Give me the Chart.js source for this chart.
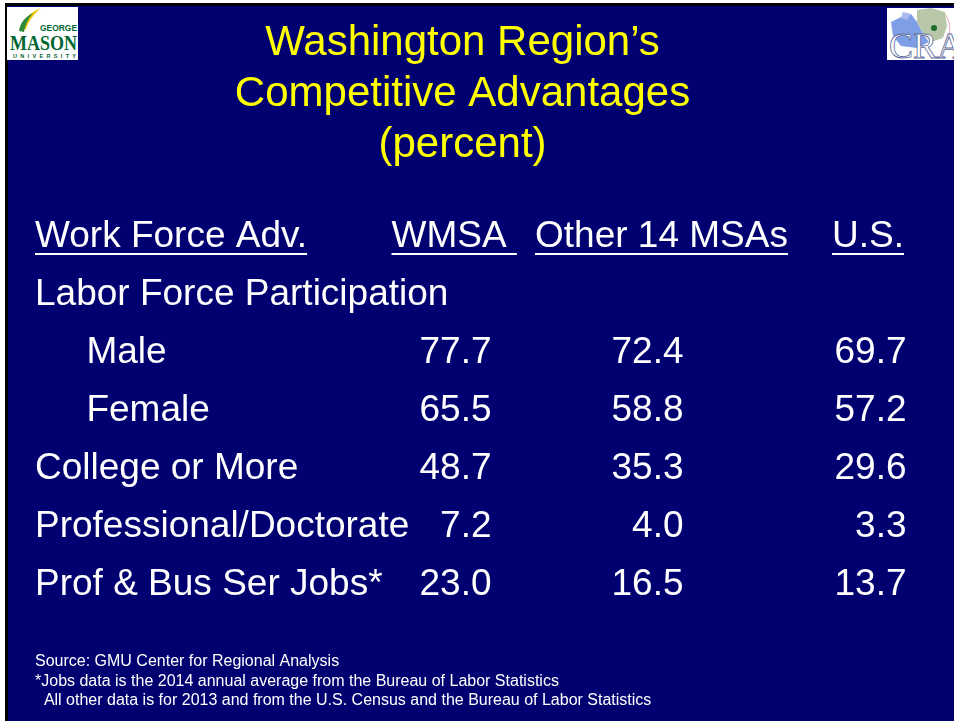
<!DOCTYPE html>
<html>
<head>
<meta charset="utf-8">
<script src="https://cdn.jsdelivr.net/npm/chart.js@4.4.1/dist/chart.umd.min.js"></script>
<style>
  html, body { margin: 0; padding: 0; }
  body { width: 954px; height: 721px; background: #fff; position: relative; overflow: hidden; }
  #slide { position: absolute; left: 5px; top: 3px; right: 0; bottom: 0; background: #000070;
           border-left: 3px solid #000; border-top: 3px solid #000; }
  .logo { position: absolute; background: #fff; }
  #gmu { left: 7px; top: 7px; width: 71px; height: 53px; }
  #cra { left: 887px; top: 8px; width: 67px; height: 52px; overflow: hidden; }
  #table { position: absolute; left: 0; top: 0; }
</style>
</head>
<body>
<div id="slide"></div>

<div id="gmu" class="logo">
  <svg width="71" height="53" viewBox="0 0 71 53">
    <path d="M14 22 C16 12 24 5 34 1 C27 7 22 13 19 22 Z" fill="#f5c400"/>
    <path d="M12 24 C13 16 18 10 26 6 C21 12 18 18 17 25 Z" fill="#2e8b3a"/>
    <text x="33" y="24" font-family="Liberation Sans, Arial" font-weight="bold" font-size="8.5" fill="#006633" textLength="37" lengthAdjust="spacingAndGlyphs">GEORGE</text>
    <text x="3" y="43" font-family="Liberation Serif, Times New Roman, serif" font-weight="bold" font-size="21" fill="#006633" textLength="67" lengthAdjust="spacingAndGlyphs">MASON</text>
    <text x="6" y="51" font-family="Liberation Sans, Arial" font-weight="bold" font-size="5.5" fill="#006633" textLength="63" lengthAdjust="spacing">UNIVERSITY</text>
  </svg>
</div>

<div id="cra" class="logo">
  <svg width="67" height="52" viewBox="0 0 67 52">
    <path d="M30 2 L44 0 L58 4 L60 18 L56 30 L44 34 L36 26 L30 14 Z" fill="#b8c7a8"/>
    <path d="M4 14 L16 8 L24 6 L30 14 L36 26 L42 34 L30 40 L14 38 L6 28 Z" fill="#7e9ee6"/>
    <path d="M16 4 L24 6 L20 12 L14 10 Z" fill="#a8b8f0"/>
    <circle cx="47" cy="20" r="3" fill="#1f6b2a"/>
    <path d="M58 6 C64 14 64 26 60 34" stroke="#e8b0b0" stroke-width="1" fill="none"/>
    <text x="2" y="50" font-family="Liberation Serif, Times New Roman, serif" font-size="36" fill="#fff" stroke="#5a6a9a" stroke-width="0.8">CRA</text>
  </svg>
</div>

<canvas id="table" width="954" height="721"></canvas>

<script>
// slide text
const titleLines = ['Washington Region\u2019s', 'Competitive Advantages', '(percent)'];
const notes = [
  'Source: GMU Center for Regional Analysis',
  '*Jobs data is the 2014 annual average from the Bureau of Labor Statistics',
  '  All other data is for 2013 and from the U.S. Census and the Bureau of Labor Statistics'
];

// table content
const header = 'Work Force Adv.';
const columns = ['WMSA', 'Other 14 MSAs', 'U.S.'];
const rows = ['Labor Force Participation', 'Male', 'Female', 'College or More',
              'Professional/Doctorate', 'Prof & Bus Ser Jobs*'];
const subRows = ['Male', 'Female'];
const wmsa = [null, 77.7, 65.5, 48.7, 7.2, 23.0];
const otherMsas = [null, 72.4, 58.8, 35.3, 4.0, 16.5];
const us = [null, 69.7, 57.2, 29.6, 3.3, 13.7];

// per-column fine placement relative to the x scale ticks
const colShift = [0, -7.25, 16.5];
const headShift = [-100, -155.75, -58];
const headText = ['WMSA ', 'Other 14 MSAs', 'U.S.'];

const FONT = "'Liberation Sans', Arial, sans-serif";
Chart.defaults.font.family = FONT;

const series = [wmsa, otherMsas, us];
const yLabels = [header].concat(rows);

const tableText = {
  id: 'tableText',
  afterDatasetsDraw(chart) {
    const ctx = chart.ctx;
    const xs = chart.scales.x, ys = chart.scales.y;
    ctx.save();
    ctx.fillStyle = '#fff';
    ctx.strokeStyle = '#fff';
    ctx.font = '37px ' + FONT;
    ctx.textBaseline = 'middle';

    // cell values
    ctx.textAlign = 'right';
    chart.data.datasets.forEach((ds, c) => {
      chart.getDatasetMeta(c).data.forEach((pt, i) => {
        ctx.fillText(ds.data[i].v.toFixed(1), pt.x + colShift[c], pt.y);
      });
    });

    // header row with underlines
    const hy = ys.getPixelForValue(0);
    ctx.textAlign = 'left';
    ctx.lineWidth = 2.2;
    const underline = (x, w) => {
      ctx.beginPath();
      ctx.moveTo(x, hy + 17.5);
      ctx.lineTo(x + w, hy + 17.5);
      ctx.stroke();
    };
    underline(ys.left, ctx.measureText(header).width);
    columns.forEach((col, c) => {
      const x = xs.getPixelForValue(c) + headShift[c];
      ctx.fillText(headText[c], x, hy);
      underline(x, ctx.measureText(headText[c]).width);
    });
    ctx.restore();
  }
};

new Chart(document.getElementById('table'), {
  type: 'scatter',
  data: {
    datasets: series.map((vals, c) => ({
      label: columns[c],
      data: rows.map((r, i) => ({ x: columns[c], y: r, v: vals[i] })).filter(d => d.v !== null),
      pointRadius: 0,
      showLine: false
    }))
  },
  options: {
    responsive: false,
    animation: false,
    events: [],
    layout: { padding: { left: 35, right: 64, top: 0, bottom: 0 } },
    scales: {
      x: {
        type: 'category',
        labels: columns,
        offset: false,
        display: false
      },
      y: {
        type: 'category',
        labels: yLabels,
        offset: true,
        grid: { display: false },
        border: { display: false },
        afterFit(scale) { scale.width = 456.5; },
        ticks: {
          color: '#fff',
          font: { size: 37 },
          crossAlign: 'far',
          autoSkip: false,
          callback(value) {
            const name = this.getLabelForValue(value);
            return subRows.includes(name) ? '     ' + name : name;
          }
        }
      }
    },
    plugins: {
      legend: { display: false },
      tooltip: { enabled: false },
      title: {
        display: true,
        text: titleLines,
        color: '#ffff00',
        font: { size: 42, weight: 'normal', lineHeight: 51 / 42 },
        padding: { top: 18, bottom: 36.5 }
      },
      subtitle: {
        display: true,
        position: 'bottom',
        align: 'start',
        text: notes,
        color: '#fff',
        font: { size: 16, lineHeight: 19.6 / 16 },
        padding: { top: 38.5, bottom: 10.2 }
      }
    }
  },
  plugins: [tableText]
});
</script>
</body>
</html>
